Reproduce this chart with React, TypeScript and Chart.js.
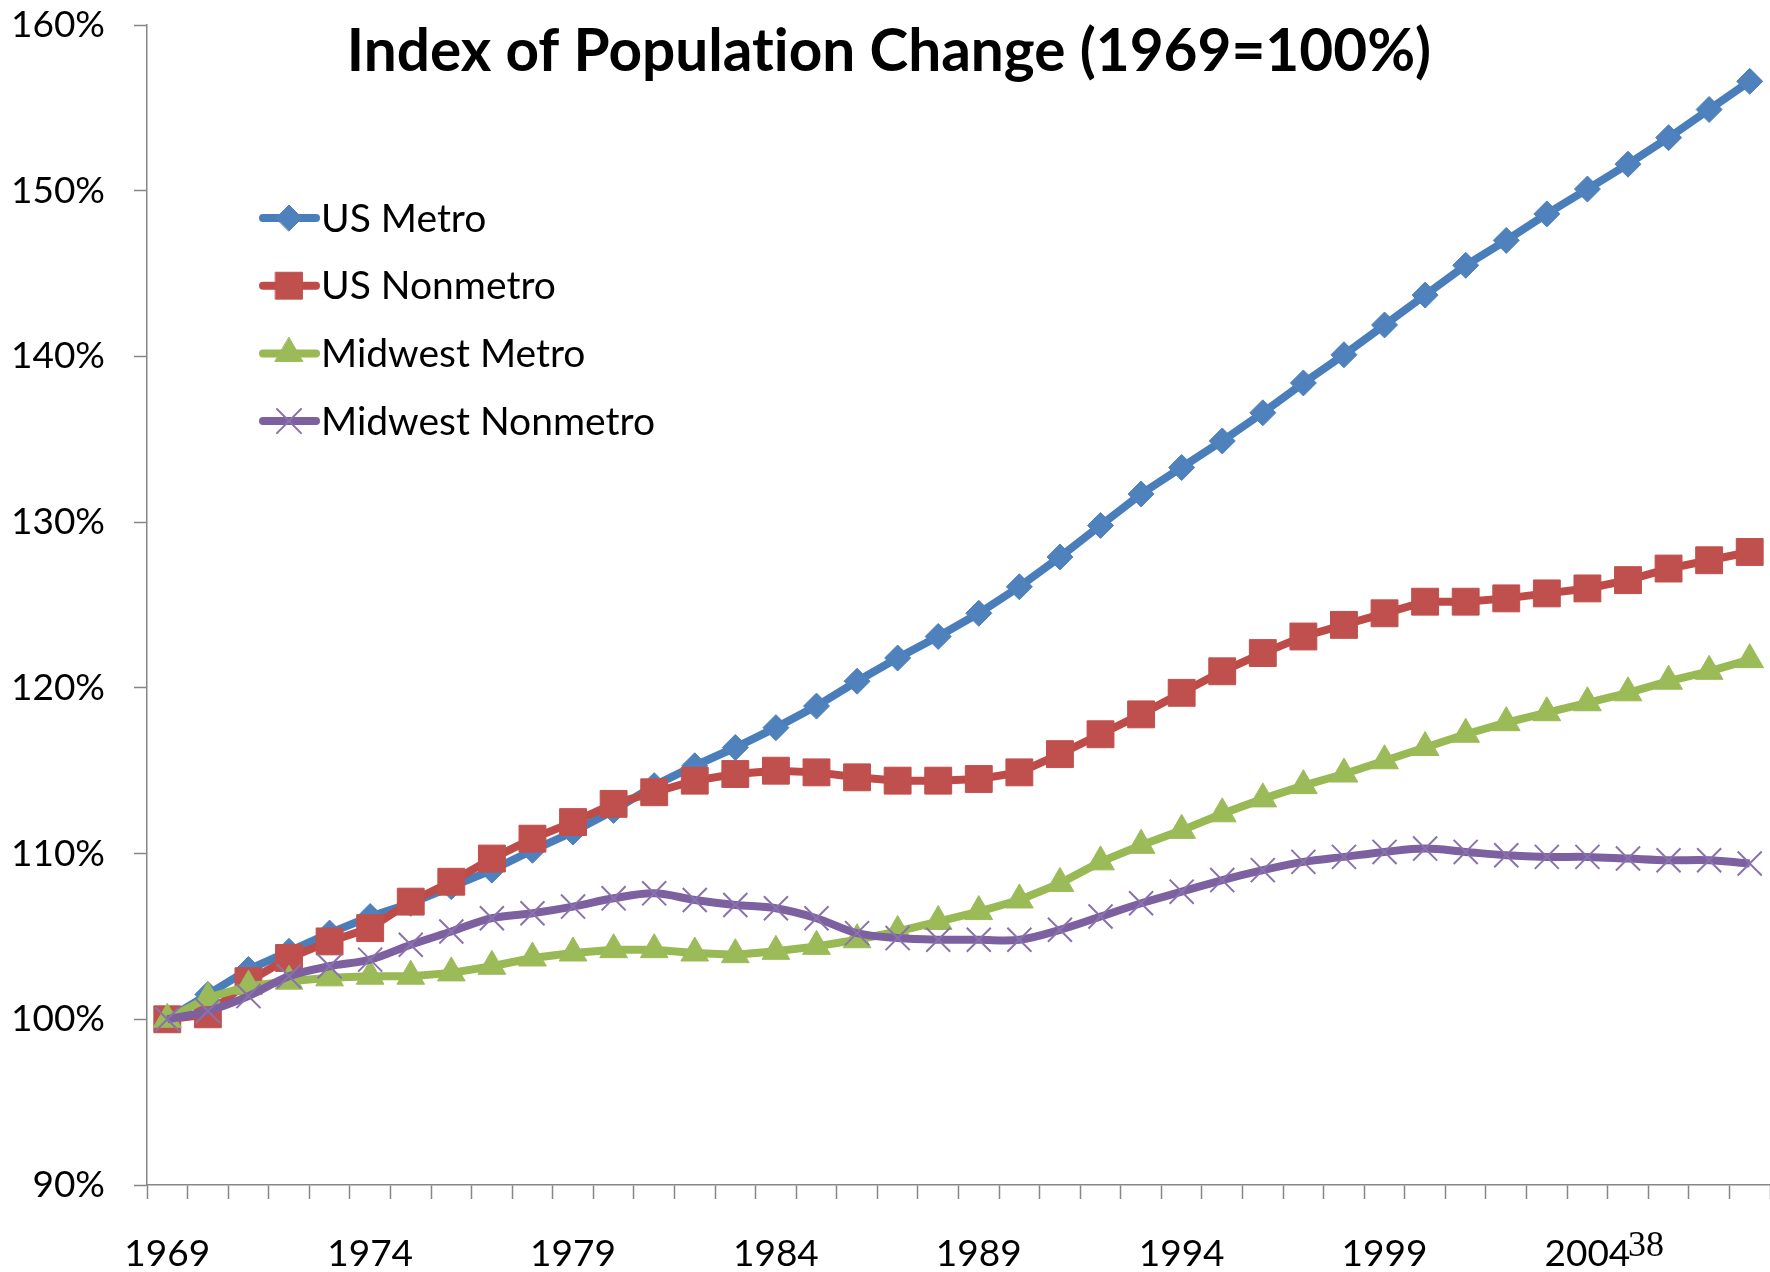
import React, { useEffect, useRef } from 'react';
import { Chart, registerables } from 'chart.js';
import { drawPoint } from 'chart.js/helpers';

Chart.register(...registerables);

const TITLE = 'Index of Population Change (1969=100%)';
const PAGE_NOTE = '38';

const years = [
  '1969', '1970', '1971', '1972', '1973', '1974', '1975', '1976', '1977', '1978',
  '1979', '1980', '1981', '1982', '1983', '1984', '1985', '1986', '1987', '1988',
  '1989', '1990', '1991', '1992', '1993', '1994', '1995', '1996', '1997', '1998',
  '1999', '2000', '2001', '2002', '2003', '2004', '2005', '2006', '2007', '2008',
];

const xTickLabels = ['1969', '1974', '1979', '1984', '1989', '1994', '1999', '2004'];

const usMetro = [
  100, 101.5, 103.0, 104.1, 105.2, 106.2, 107.0, 108.0, 109.0, 110.2,
  111.3, 112.6, 114.1, 115.3, 116.4, 117.6, 118.9, 120.4, 121.8, 123.1,
  124.5, 126.1, 127.9, 129.8, 131.7, 133.3, 134.9, 136.6, 138.4, 140.1,
  141.9, 143.7, 145.5, 147.0, 148.6, 150.1, 151.6, 153.2, 154.9, 156.6,
];

const usNonmetro = [
  100, 100.3, 102.3, 103.7, 104.7, 105.5, 107.1, 108.3, 109.7, 110.9,
  111.9, 113.0, 113.7, 114.4, 114.8, 115.0, 114.9, 114.6, 114.4, 114.4,
  114.5, 114.9, 116.0, 117.2, 118.4, 119.7, 121.0, 122.1, 123.1, 123.8,
  124.5, 125.2, 125.2, 125.4, 125.7, 126.0, 126.5, 127.2, 127.7, 128.2,
];

const midwestMetro = [
  100, 101.3, 102.0, 102.3, 102.5, 102.6, 102.6, 102.8, 103.2, 103.7,
  104.0, 104.2, 104.2, 104.0, 103.9, 104.1, 104.4, 104.8, 105.3, 105.9,
  106.5, 107.2, 108.2, 109.5, 110.5, 111.4, 112.4, 113.3, 114.1, 114.8,
  115.6, 116.4, 117.2, 117.9, 118.5, 119.1, 119.7, 120.4, 121.0, 121.7,
];

const midwestNonmetro = [
  100, 100.5, 101.4, 102.6, 103.2, 103.6, 104.5, 105.3, 106.1, 106.4,
  106.8, 107.3, 107.6, 107.2, 106.9, 106.7, 106.1, 105.2, 104.9, 104.8,
  104.8, 104.8, 105.4, 106.2, 107.0, 107.7, 108.4, 109.0, 109.5, 109.8,
  110.1, 110.3, 110.1, 109.9, 109.8, 109.8, 109.7, 109.6, 109.6, 109.4,
];

const seriesNames = ['US Metro', 'US Nonmetro', 'Midwest Metro', 'Midwest Nonmetro'];

const FONT = 'Lato, "Open Sans", sans-serif';

const overlayPlugin = {
  id: 'overlay',
  afterDraw(chart: any) {
    const ctx = chart.ctx;
    ctx.save();
    try { (ctx as any).textRendering = 'optimizeSpeed'; } catch (e) { /* ignore */ }
    // title
    ctx.font = `bold 58.5px ${FONT}`;
    ctx.fillStyle = '#000';
    ctx.textAlign = 'center';
    ctx.textBaseline = 'alphabetic';
    ctx.fillText(TITLE, 889, 71);

    // legend
    const y0 = 218;
    const gap = 67.7;
    chart.data.datasets.forEach((ds: any, i: number) => {
      const y = y0 + i * gap;
      ctx.strokeStyle = ds.borderColor;
      ctx.lineWidth = 8;
      ctx.lineCap = 'round';
      ctx.beginPath();
      ctx.moveTo(263, y);
      ctx.lineTo(316, y);
      ctx.stroke();
      ctx.fillStyle = ds.pointBackgroundColor;
      ctx.strokeStyle = ds.pointBorderColor;
      ctx.lineWidth = ds.pointBorderWidth;
      drawPoint(ctx, {
        pointStyle: ds.pointStyle,
        radius: ds.pointRadius,
        rotation: 0,
        borderWidth: ds.pointBorderWidth,
      } as any, 289, y);
      ctx.fillStyle = '#000';
      ctx.font = `39px ${FONT}`;
      ctx.textAlign = 'left';
      ctx.textBaseline = 'middle';
      ctx.fillText(ds.label, 321, y + 1);
    });

    // page number
    ctx.font = '36px "Liberation Serif", "Times New Roman", serif';
    ctx.fillStyle = '#000';
    ctx.textAlign = 'left';
    ctx.textBaseline = 'alphabetic';
    ctx.fillText(PAGE_NOTE, 1628, 1256);
    ctx.restore();
  },
};

export default function App() {
  const ref = useRef<HTMLCanvasElement | null>(null);

  useEffect(() => {
    if (!ref.current) return;
    const chart = new Chart(ref.current, {
      type: 'line',
      data: {
        labels: years,
        datasets: [
          {
            label: seriesNames[0],
            data: usMetro,
            borderColor: '#4A7EBB',
            backgroundColor: '#4F81BD',
            pointBackgroundColor: '#4F81BD',
            pointBorderColor: '#4F81BD',
            pointBorderWidth: 1,
            pointStyle: 'rectRot',
            pointRadius: 13,
            borderWidth: 8,
            tension: 0,
            order: 4,
          },
          {
            label: seriesNames[1],
            data: usNonmetro,
            borderColor: '#BE4B48',
            backgroundColor: '#C0504D',
            pointBackgroundColor: '#C0504D',
            pointBorderColor: '#C0504D',
            pointBorderWidth: 1,
            pointStyle: 'rect',
            pointRadius: 19,
            borderWidth: 8,
            tension: 0,
            order: 3,
          },
          {
            label: seriesNames[2],
            data: midwestMetro,
            borderColor: '#98B954',
            backgroundColor: '#9BBB59',
            pointBackgroundColor: '#9BBB59',
            pointBorderColor: '#9BBB59',
            pointBorderWidth: 1,
            pointStyle: 'triangle',
            pointRadius: 16,
            borderWidth: 8,
            tension: 0,
            order: 2,
          },
          {
            label: seriesNames[3],
            data: midwestNonmetro,
            borderColor: '#7D60A0',
            backgroundColor: '#8064A2',
            pointBackgroundColor: '#8064A2',
            pointBorderColor: '#8A72AD',
            pointBorderWidth: 2,
            pointStyle: 'crossRot',
            pointRadius: 17,
            borderWidth: 8,
            tension: 0.35,
            order: 1,
          },
        ],
      },
      options: {
        responsive: false,
        animation: false,
        events: [],
        layout: { autoPadding: false, padding: { top: 25, right: 0, left: 0, bottom: 0 } },
        plugins: {
          legend: { display: false },
          title: { display: false },
          tooltip: { enabled: false },
        },
        scales: {
          x: {
            type: 'category',
            offset: true,
            grid: {
              offset: true,
              drawOnChartArea: false,
              drawTicks: true,
              tickLength: 14,
              tickWidth: 1.5,
              tickColor: '#868686',
            },
            border: { color: '#868686', width: 1.5 },
            ticks: {
              autoSkip: false,
              maxRotation: 0,
              minRotation: 0,
              padding: 33,
              color: '#000',
              font: { family: FONT, size: 37 },
              callback: (_v: any, index: number) =>
                xTickLabels.includes(years[index]) ? years[index] : '',
            },
            afterFit: (scale: any) => {
              scale.height = 87;
              scale.paddingLeft = 0;
              scale.paddingRight = 0;
              scale.paddingTop = 0;
              scale.paddingBottom = 0;
            },
          },
          y: {
            min: 90,
            max: 160,
            grid: {
              drawOnChartArea: false,
              drawTicks: true,
              tickLength: 13,
              tickWidth: 1.5,
              tickColor: '#868686',
            },
            border: { color: '#868686', width: 1.5 },
            ticks: {
              stepSize: 10,
              padding: 29,
              color: '#000',
              font: { family: FONT, size: 37 },
              callback: (v: any) => `${v}%`,
            },
            afterFit: (scale: any) => {
              scale.width = 147;
              scale.paddingLeft = 0;
              scale.paddingRight = 0;
              scale.paddingTop = 0;
              scale.paddingBottom = 0;
            },
          },
        },
      },
      plugins: [overlayPlugin],
    });
    return () => chart.destroy();
  }, []);

  return (
    <div style={{ position: 'absolute', left: 0, top: 0, width: 1770, height: 1272, background: '#fff' }}>
      <canvas ref={ref} width={1770} height={1272} style={{ display: 'block' }} />
    </div>
  );
}
